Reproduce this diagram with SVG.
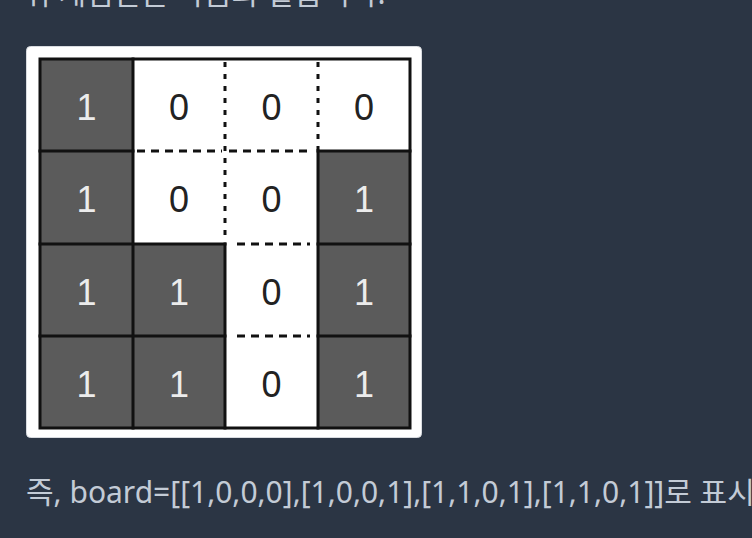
<svg xmlns="http://www.w3.org/2000/svg" width="752" height="538" viewBox="0 0 752 538">
<style>
.bg{fill:#2b3544}
.card{fill:#ffffff;stroke:#d8dbe0;stroke-width:1}
.dark{fill:#5b5b5b}
.solid{stroke:#111;stroke-width:3;fill:none;stroke-linecap:square}
.dv{stroke:#111;stroke-width:3;fill:none;stroke-dasharray:5 7}
.dh{stroke:#111;stroke-width:3;fill:none;stroke-dasharray:8 6}
.one{font-family:"Liberation Sans",Arial,sans-serif;font-size:36px;fill:#ececec;text-anchor:middle}
.zero{font-family:"Liberation Sans",Arial,sans-serif;font-size:36px;fill:#222;text-anchor:middle}
.para{font-family:"Noto Sans","Noto Sans CJK KR",sans-serif;font-size:30px;fill:#c3cbd6}
</style>
<rect class="bg" x="0" y="0" width="752" height="538"/>
<text class="para" x="23" y="4">위 게임판은 다음과 같습니다.</text>
<g id="board">
<rect class="card" x="26.5" y="46.5" width="395" height="391" rx="4"/>
<rect class="dark" x="40" y="59" width="93" height="369"/>
<rect class="dark" x="133" y="244" width="92" height="184"/>
<rect class="dark" x="318" y="151" width="92" height="277"/>
</g>
<g id="connectors">
<rect class="solid" x="40" y="59" width="370" height="369"/>
<line class="solid" x1="133" y1="59" x2="133" y2="428"/>
<line class="solid" x1="225" y1="244" x2="225" y2="428"/>
<line class="solid" x1="318" y1="151" x2="318" y2="428"/>
<line class="solid" x1="40" y1="151" x2="133" y2="151"/>
<line class="solid" x1="318" y1="151" x2="410" y2="151"/>
<line class="solid" x1="40" y1="244" x2="225" y2="244"/>
<line class="solid" x1="318" y1="244" x2="410" y2="244"/>
<line class="solid" x1="40" y1="336" x2="225" y2="336"/>
<line class="solid" x1="318" y1="336" x2="410" y2="336"/>
<line class="dv" x1="225" y1="62" x2="225" y2="242"/>
<line class="dv" x1="318" y1="62" x2="318" y2="150"/>
<line class="dh" x1="137" y1="151" x2="222" y2="151"/>
<line class="dh" x1="229" y1="151" x2="312" y2="151"/>
<line class="dh" x1="237" y1="244" x2="310" y2="244"/>
<line class="dh" x1="237" y1="336" x2="310" y2="336"/>
</g>
<g id="cells">
<text class="one" x="86.5" y="120">1</text>
<text class="zero" x="179" y="120">0</text>
<text class="zero" x="271.5" y="120">0</text>
<text class="zero" x="364" y="120">0</text>
<text class="one" x="86.5" y="212">1</text>
<text class="zero" x="179" y="212">0</text>
<text class="zero" x="271.5" y="212">0</text>
<text class="one" x="364" y="212">1</text>
<text class="one" x="86.5" y="305">1</text>
<text class="one" x="179" y="305">1</text>
<text class="zero" x="271.5" y="305">0</text>
<text class="one" x="364" y="305">1</text>
<text class="one" x="86.5" y="397">1</text>
<text class="one" x="179" y="397">1</text>
<text class="zero" x="271.5" y="397">0</text>
<text class="one" x="364" y="397">1</text>
</g>
<text class="para" x="26" y="503">즉, board=[[1,0,0,0],[1,0,0,1],[1,1,0,1],[1,1,0,1]]로 표시</text>
</svg>
